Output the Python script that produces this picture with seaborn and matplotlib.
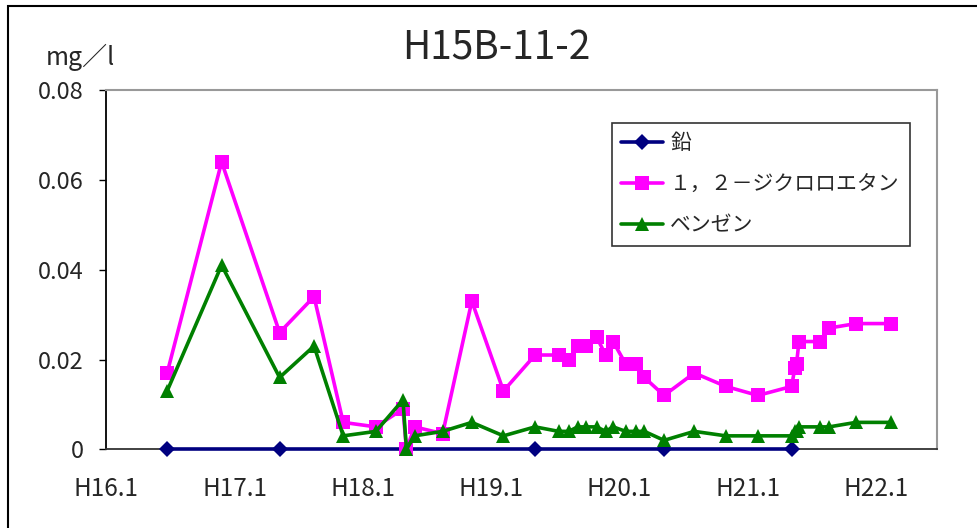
import numpy as np
import pandas as pd
import matplotlib
matplotlib.use("Agg")
import matplotlib.pyplot as plt
from matplotlib.patches import Rectangle
import seaborn as sns

# sampling dates
dates = ["2004-06-23", "2004-11-25", "2005-05-09", "2005-08-15", "2005-11-06",
         "2006-02-07", "2006-04-25", "2006-05-05", "2006-05-28", "2006-08-16",
         "2006-11-07", "2007-02-05", "2007-05-06", "2007-07-12", "2007-08-10",
         "2007-09-04", "2007-09-27", "2007-10-28", "2007-11-23", "2007-12-14",
         "2008-01-19", "2008-02-17", "2008-03-12", "2008-05-07", "2008-08-01",
         "2008-10-30", "2009-01-29", "2009-05-05", "2009-05-14", "2009-05-19",
         "2009-05-26", "2009-07-26", "2009-08-20", "2009-11-04", "2010-02-12"]
dce = [0.017, 0.064, 0.026, 0.034, 0.006, 0.005, 0.009, 0, 0.005, 0.0035,
       0.033, 0.013, 0.021, 0.021, 0.020, 0.023, 0.023, 0.025, 0.021, 0.024,
       0.019, 0.019, 0.016, 0.012, 0.017, 0.014, 0.012, 0.014, 0.018, 0.019,
       0.024, 0.024, 0.027, 0.028, 0.028]
benzene = [0.013, 0.041, 0.016, 0.023, 0.003, 0.004, 0.011, 0, 0.003, 0.004,
           0.006, 0.003, 0.005, 0.004, 0.004, 0.005, 0.005, 0.005, 0.004, 0.005,
           0.004, 0.004, 0.004, 0.002, 0.004, 0.003, 0.003, 0.003, 0.004, 0.004,
           0.005, 0.005, 0.005, 0.006, 0.006]
lead_dates = ["2004-06-23", "2005-05-09", "2007-05-06", "2008-05-07", "2009-05-05"]
lead = [0, 0, 0, 0, 0]

names = ["鉛", "１，２－ジクロロエタン", "ベンゼン"]
xtick_dates = ["2004-01-01", "2005-01-01", "2006-01-01", "2007-01-01",
               "2008-01-01", "2009-01-01", "2010-01-01"]
xtick_labels = ["H16.1", "H17.1", "H18.1", "H19.1", "H20.1", "H21.1", "H22.1"]
yticks = [0, 0.02, 0.04, 0.06, 0.08]
ytick_labels = ["0", "0.02", "0.04", "0.06", "0.08"]

sns.set_style("white")
plt.rcParams['font.family'] = ['Noto Sans CJK JP', 'DejaVu Sans']

df_lead = pd.DataFrame({"date": pd.to_datetime(lead_dates), "val": lead})
df_dce = pd.DataFrame({"date": pd.to_datetime(dates), "val": dce})
df_bz = pd.DataFrame({"date": pd.to_datetime(dates), "val": benzene})

fig = plt.figure(figsize=(9.78, 5.28), dpi=100)
ax = fig.add_axes([0.1084, 0.149, 0.8494, 0.6805])

sns.lineplot(data=df_lead, x="date", y="val", ax=ax, color="#000080", lw=2.6,
             marker="D", markersize=8, markeredgecolor="#000080", mew=0,
             label=names[0], estimator=None, clip_on=False, zorder=3)
sns.lineplot(data=df_dce, x="date", y="val", ax=ax, color="#FF00FF", lw=2.6,
             marker="s", markersize=9.5, markeredgecolor="#FF00FF", mew=0,
             label=names[1], estimator=None, clip_on=False, zorder=4)
sns.lineplot(data=df_bz, x="date", y="val", ax=ax, color="#008000", lw=2.6,
             marker="^", markersize=10.5, markeredgecolor="#008000", mew=0,
             label=names[2], estimator=None, clip_on=False, zorder=5)

ax.set_xlim(pd.Timestamp("2004-01-01"), pd.Timestamp("2010-06-22"))
ax.set_ylim(0, 0.08)
ax.set_xticks(pd.to_datetime(xtick_dates))
ax.set_xticklabels(xtick_labels, fontsize=17.5)
ax.set_yticks(yticks)
ax.set_yticklabels(ytick_labels, fontsize=17)
ax.tick_params(axis="x", direction="in", length=6, width=1, pad=19, color="black")
ax.tick_params(axis="y", direction="out", length=5, width=1, pad=11, color="black", left=True)
ax.set_xlabel("")
ax.set_ylabel("")

for side in ["top", "right"]:
    ax.spines[side].set_color("#999999")
    ax.spines[side].set_linewidth(1.5)
ax.spines["left"].set_color("black")
ax.spines["bottom"].set_color("#333333")
for side in ["left", "bottom"]:
    ax.spines[side].set_linewidth(1.3)

leg = ax.legend(loc="upper left", bbox_to_anchor=(0.609, 0.569, 0.359, 0.339),
                mode="expand", fontsize=15, frameon=True, fancybox=False,
                handlelength=2.0, handletextpad=0.35, labelspacing=0.92,
                borderpad=0.45, borderaxespad=0)
leg.get_frame().set_edgecolor("black")
leg.get_frame().set_linewidth(1.2)
leg.set_zorder(10)

fig.text(0.5077, 1 - 49 / 528, "H15B-11-2", fontsize=28, ha="center", va="center")
fig.text(46 / 978, 1 - 65 / 528, "mg／l", fontsize=18, ha="left", va="baseline")

# outer chart frame (partly cropped in the original)
fig.patches.append(Rectangle((8 / 978, -0.5), 2, 1 - 6 / 528 + 0.5, fill=False,
                             edgecolor="black", lw=1.5, transform=fig.transFigure,
                             figure=fig))

fig.savefig("out.png", dpi=100)
